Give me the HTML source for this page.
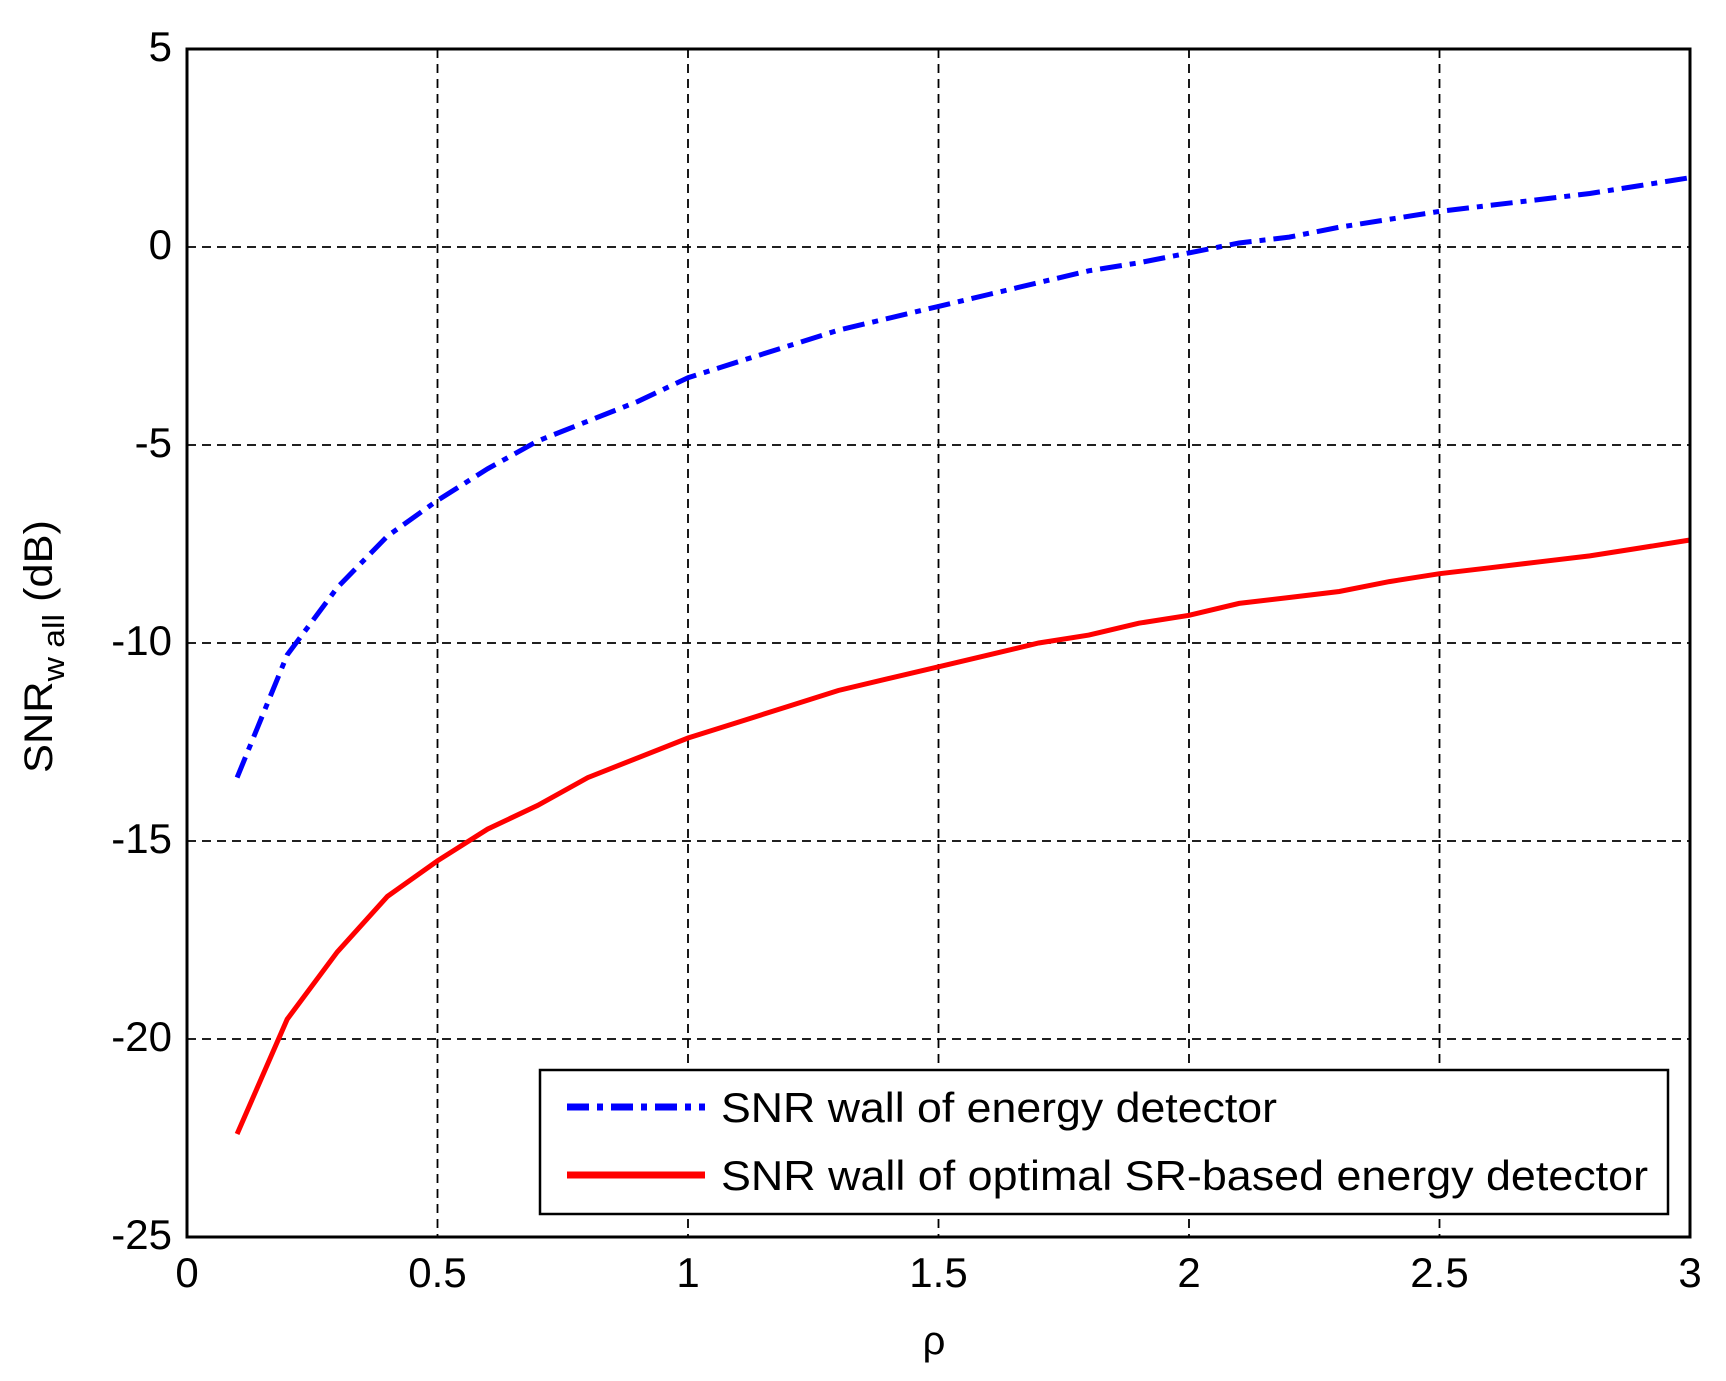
<!DOCTYPE html>
<html><head><meta charset="utf-8"><style>
html,body{margin:0;padding:0;background:#fff}
svg{display:block}
text{font-family:"Liberation Sans",sans-serif;fill:#000}
</style></head><body>
<svg id="s" width="1726" height="1381" xmlns="http://www.w3.org/2000/svg">
<g id="grid" stroke="#000" stroke-width="1.8" stroke-dasharray="9,6"></g>
<g id="ticks" font-size="42"></g>
<polyline id="blue" fill="none" stroke="#0000ff" stroke-width="5" stroke-dasharray="22,8,6,8"/>
<polyline id="red" fill="none" stroke="#ff0000" stroke-width="5"/>
<rect x="187" y="49" width="1503" height="1188" fill="none" stroke="#000" stroke-width="3"/>
<rect x="540" y="1070" width="1128" height="144" fill="#fff" stroke="#000" stroke-width="2.5"/>
<line x1="567" y1="1107" x2="705" y2="1107" stroke="#0000ff" stroke-width="7" stroke-dasharray="22,8,6,8"/>
<line x1="567" y1="1175" x2="705" y2="1175" stroke="#ff0000" stroke-width="7"/>
<text x="721" y="1122" font-size="42" textLength="556" lengthAdjust="spacingAndGlyphs">SNR wall of energy detector</text>
<text x="721" y="1190" font-size="42" textLength="927" lengthAdjust="spacingAndGlyphs">SNR wall of optimal SR-based energy detector</text>
<text x="934" y="1354" font-size="40" text-anchor="middle">ρ</text>
<text transform="translate(52,773) rotate(-90)" font-size="40" textLength="253" lengthAdjust="spacingAndGlyphs">SNR<tspan font-size="31" dy="12">w all</tspan><tspan dy="-12"> (dB)</tspan></text>
</svg>
<script>
var X=function(v){return 187+v*501},Y=function(v){return 49+(5-v)*39.6};
var g=document.getElementById('grid'),t=document.getElementById('ticks'),ns='http://www.w3.org/2000/svg';
function el(p,n,a,txt){var e=document.createElementNS(ns,n);for(var k in a)e.setAttribute(k,a[k]);if(txt!==undefined)e.textContent=txt;p.appendChild(e);}
for(var i=1;i<6;i++){var x=X(i*0.5);el(g,'line',{x1:x,x2:x,y1:49,y2:1237});}
for(var v=0;v>-25;v-=5){var y=Y(v);el(g,'line',{x1:187,x2:1690,y1:y,y2:y});}
['0','0.5','1','1.5','2','2.5','3'].forEach(function(s,i){el(t,'text',{x:X(i*0.5),y:1287,'text-anchor':'middle'},s);});
[5,0,-5,-10,-15,-20,-25].forEach(function(v){el(t,'text',{x:172,y:Y(v)+12,'text-anchor':'end'},String(v));});
var b=[-13.4,-10.3,-8.6,-7.3,-6.4,-5.6,-4.9,-4.4,-3.9,-3.3,-2.9,-2.5,-2.1,-1.8,-1.5,-1.2,-0.9,-0.6,-0.4,-0.15,0.1,0.25,0.5,0.7,0.9,1.05,1.2,1.35,1.55,1.75];
var r=[-22.4,-19.5,-17.8,-16.4,-15.5,-14.7,-14.1,-13.4,-12.9,-12.4,-12.0,-11.6,-11.2,-10.9,-10.6,-10.3,-10.0,-9.8,-9.5,-9.3,-9.0,-8.85,-8.7,-8.45,-8.25,-8.1,-7.95,-7.8,-7.6,-7.4];
function pts(a){return a.map(function(v,i){return X(0.1*(i+1)).toFixed(1)+','+Y(v).toFixed(1)}).join(' ');}
document.getElementById('blue').setAttribute('points',pts(b));
document.getElementById('red').setAttribute('points',pts(r));
</script>
</body></html>
